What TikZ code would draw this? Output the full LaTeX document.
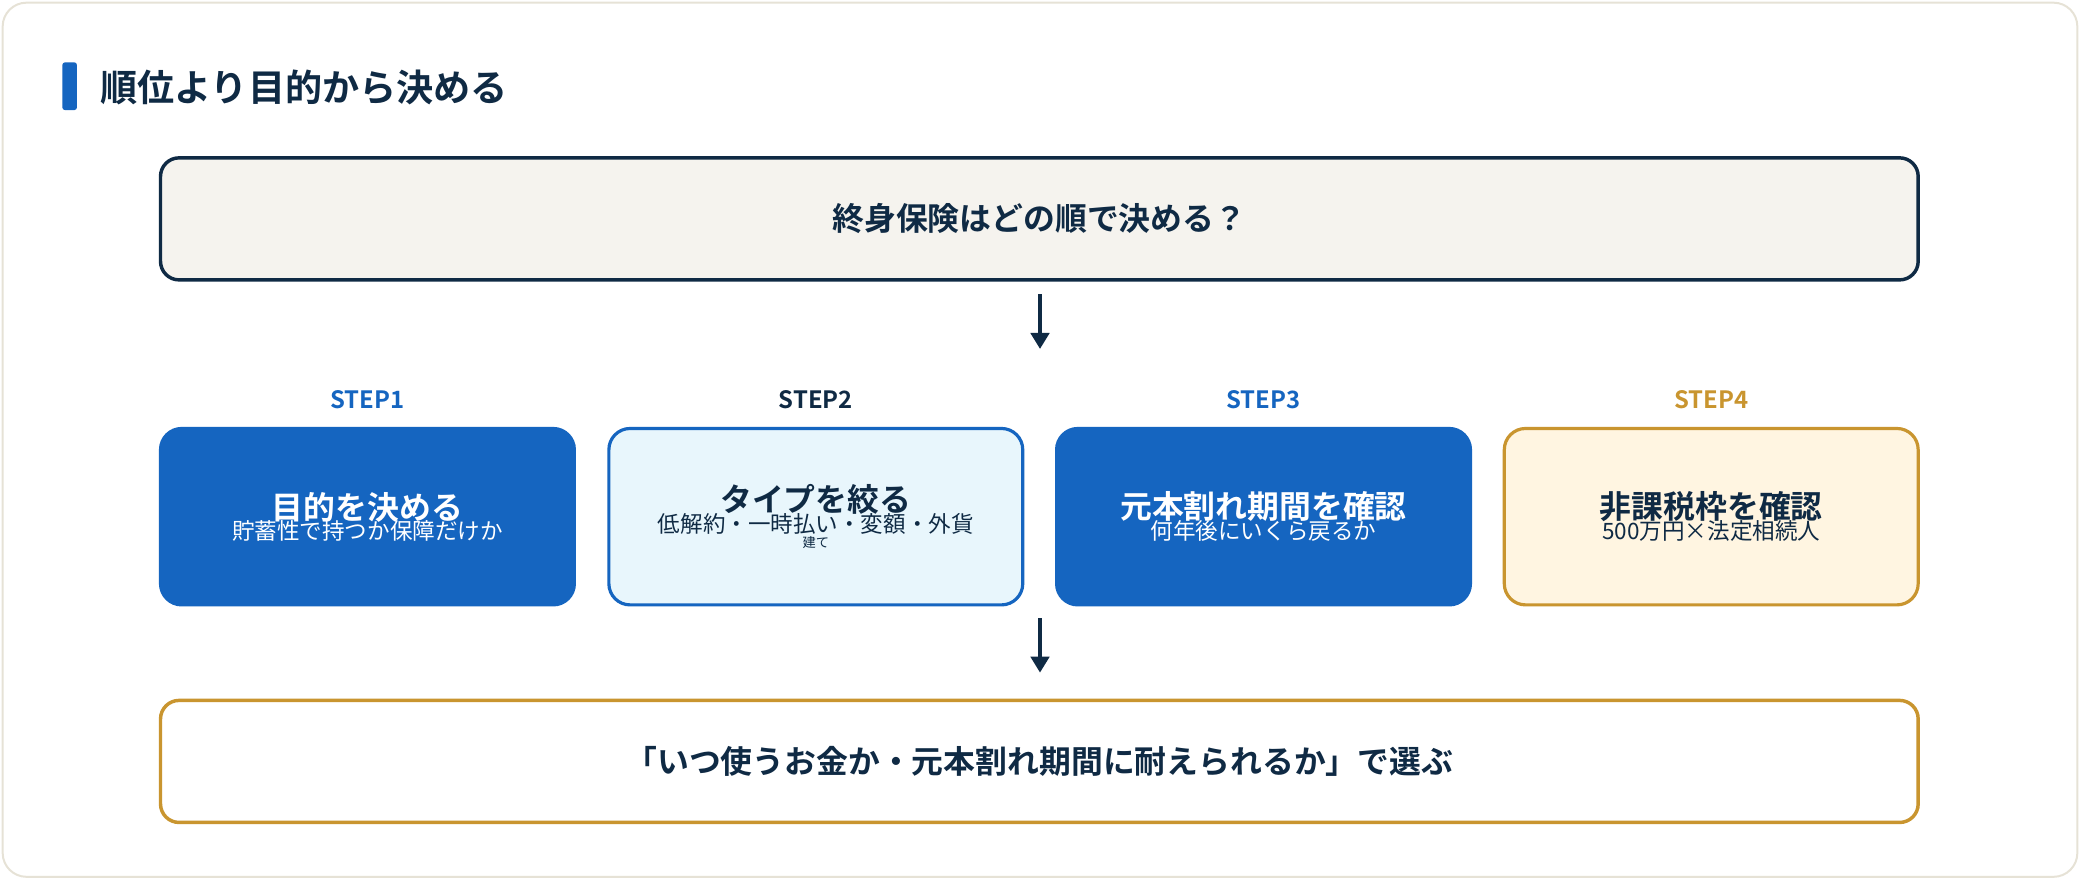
\documentclass[tikz,border=0pt]{standalone}
\usepackage{fontspec}
\setmainfont{Noto Sans CJK JP}[BoldFont={Noto Sans CJK JP Bold}]
\usetikzlibrary{positioning,arrows.meta}
\definecolor{navy}{HTML}{0F2A44}
\definecolor{stepblue}{HTML}{1565C0}
\definecolor{paleblue}{HTML}{E8F6FC}
\definecolor{gold}{HTML}{C9952F}
\definecolor{cream}{HTML}{FFF5E1}
\definecolor{paper}{HTML}{F5F3EE}
\definecolor{frame}{HTML}{E6E2D6}
\tikzset{
  box/.style={rounded corners=14pt, line width=2.6pt, minimum height=92pt, align=center},
  stepbox/.style={rounded corners=16pt, line width=2.4pt, minimum width=312pt, minimum height=133pt, align=center, inner sep=4pt},
  steplabel/.style={font=\fontsize{18}{20}\selectfont\bfseries},
  flow/.style={-{Triangle[length=12pt,width=14pt]}, line width=2.4pt, navy},
}
\newcommand{\steptext}[2]{\fontsize{24}{30}\selectfont\bfseries #1\\[-2pt]\fontsize{17}{26}\selectfont\mdseries #2}
\begin{document}
\begin{tikzpicture}[x=1pt,y=-1pt]
\useasboundingbox (0,0) rectangle (1568,663);
\draw[frame, line width=1.5pt, fill=white, rounded corners=18pt] (2,2) rectangle (1566,661);
% heading
\fill[stepblue, rounded corners=2pt] (47,47) rectangle (58,83);
\node[anchor=west, navy, font=\fontsize{28}{32}\selectfont\bfseries] (title) at (72,66) {順位より目的から決める};
% question
\node[box, draw=navy, fill=paper, minimum width=1325pt, text=navy, font=\fontsize{24}{28}\selectfont\bfseries] (q) at (783.5,165) {終身保険はどの順で決める？};
% steps
\node[stepbox, fill=stepblue, draw=stepblue, text=white] (s1) at (277,389.5) {\steptext{目的を決める}{貯蓄性で持つか保障だけか}};
\node[stepbox, fill=paleblue, draw=stepblue, text=navy] (s2) at (615,389.5) {\steptext{タイプを絞る}{低解約・一時払い・変額・外貨\\建て}};
\node[stepbox, fill=stepblue, draw=stepblue, text=white] (s3) at (952.5,389.5) {\steptext{元本割れ期間を確認}{何年後にいくら戻るか}};
\node[stepbox, fill=cream, draw=gold, text=navy] (s4) at (1290,389.5) {\steptext{非課税枠を確認}{500万円×法定相続人}};
\node[steplabel, stepblue, above=10pt of s1] (l1) {STEP1};
\node[steplabel, navy, above=10pt of s2] (l2) {STEP2};
\node[steplabel, stepblue, above=10pt of s3] (l3) {STEP3};
\node[steplabel, gold, above=10pt of s4] (l4) {STEP4};
% result
\node[box, draw=gold, fill=white, minimum width=1325pt, text=navy, font=\fontsize{24}{28}\selectfont\bfseries] (r) at (783.5,574) {「いつ使うお金か・元本割れ期間に耐えられるか」で選ぶ};
\coordinate (a1) at (784,222);
\coordinate (b1) at (784,263);
\coordinate (a2) at (784,466);
\coordinate (b2) at (784,507);
\draw[flow] (a1) -- (b1);
\draw[flow] (a2) -- (b2);
\end{tikzpicture}
\end{document}
